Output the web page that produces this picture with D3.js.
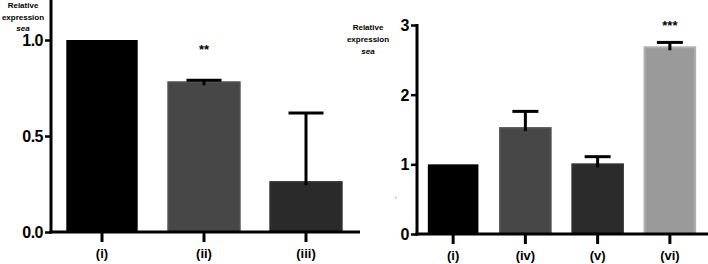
<!DOCTYPE html>
<html><head><meta charset="utf-8">
<script src="https://cdn.jsdelivr.net/npm/d3@7"></script>
<style>body{margin:0;background:#fff}svg{display:block}</style>
</head><body>
<script>
// Left panel data
const catsA = ["(i)", "(ii)", "(iii)"];
const valsA = [1.0, 0.78, 0.26];
const errA = [null, 0.79, 0.62];
const sigA = ["", "**", ""];
const colorsA = ["#000000", "#474747", "#2a2a2a"];
const ticksA = [0, 0.5, 1.0];
// Right panel data
const catsB = ["(i)", "(iv)", "(v)", "(vi)"];
const valsB = [1.0, 1.52, 1.0, 2.68];
const errB = [null, 1.76, 1.11, 2.75];
const sigB = ["", "", "", "***"];
const colorsB = ["#000000", "#474747", "#2b2b2b", "#9a9a9a"];
const ticksB = [0, 1, 2, 3];
const yLabel = ["Relative", "expression", "sea"];

const W = 708, H = 264;
const svg = d3.select("body").append("svg").attr("width", W).attr("height", H);
const font = "'Liberation Sans', Arial, sans-serif";

function panel(cfg) {
  const g = svg.append("g");
  const x = d3.scaleBand().domain(cfg.cats).range(cfg.xr).paddingInner(0.3).paddingOuter(0.15);
  const y = d3.scaleLinear().domain(cfg.yd).range(cfg.yr);
  // bars
  g.selectAll("rect.bar").data(cfg.vals).join("rect")
    .attr("x", (d, i) => x(cfg.cats[i]))
    .attr("width", x.bandwidth())
    .attr("y", d => y(d))
    .attr("height", d => y(0) - y(d))
    .attr("fill", (d, i) => cfg.colors[i])
    .attr("stroke", (d, i) => i === 0 ? "none" : d3.color(cfg.colors[i]).brighter(0.35))
    .attr("stroke-width", 2);
  // error bars
  cfg.errs.forEach((e, i) => {
    if (e == null) return;
    const cx = x(cfg.cats[i]) + x.bandwidth() / 2;
    g.append("line").attr("x1", cx).attr("x2", cx).attr("y1", y(e)).attr("y2", y(cfg.vals[i]) + 3)
      .attr("stroke", "#000").attr("stroke-width", 3);
    g.append("line").attr("x1", cx - cfg.cap / 2).attr("x2", cx + cfg.cap / 2).attr("y1", y(e)).attr("y2", y(e))
      .attr("stroke", "#000").attr("stroke-width", 3);
  });
  // significance
  cfg.sigs.forEach((s, i) => {
    if (!s) return;
    const cx = x(cfg.cats[i]) + x.bandwidth() / 2;
    g.append("text").attr("x", cx).attr("y", y(cfg.errs[i]) - cfg.sigOff).attr("text-anchor", "middle")
      .attr("font-family", font).attr("font-weight", "bold").attr("font-size", 13).text(s);
  });
  // y axis
  const ya = g.append("g").attr("transform", `translate(${cfg.xr[0]},0)`)
    .call(d3.axisLeft(y).tickValues(cfg.ticks).tickSize(6).tickPadding(2).tickFormat(cfg.fmt));
  ya.select(".domain").remove();
  ya.selectAll(".tick line").attr("stroke", "#000").attr("stroke-width", 2.5);
  ya.selectAll(".tick text").attr("font-family", font).attr("font-weight", "bold").attr("font-size", 16)
    .attr("fill", "#000").attr("dy", "0.35em").attr("letter-spacing", "-0.5");
  g.append("line").attr("x1", cfg.xr[0]).attr("x2", cfg.xr[0]).attr("y1", cfg.axisTop).attr("y2", y(0) + 1.5)
    .attr("stroke", "#000").attr("stroke-width", 3);
  // x axis
  const xa = g.append("g").attr("transform", `translate(0,${y(0)})`)
    .call(d3.axisBottom(x).tickSize(10).tickPadding(7));
  xa.select(".domain").remove();
  xa.selectAll(".tick line").attr("stroke", "#000").attr("stroke-width", 3);
  xa.selectAll(".tick text").attr("font-family", font).attr("font-weight", "bold").attr("font-size", 13)
    .attr("fill", "#000");
  g.append("line").attr("x1", cfg.xr[0] - 1.5).attr("x2", cfg.xEnd).attr("y1", y(0)).attr("y2", y(0))
    .attr("stroke", "#000").attr("stroke-width", 3);
  // y label
  yLabel.forEach((t, i) => {
    g.append("text").attr("x", cfg.lx).attr("y", cfg.ly + i * cfg.lh).attr("text-anchor", "middle")
      .attr("font-family", font).attr("font-weight", cfg.lw).attr("font-size", 8)
      .attr("font-style", i === 2 ? "italic" : "normal").text(t);
  });
  return {x, y, g};
}

panel({cats: catsA, vals: valsA, errs: errA, sigs: sigA, colors: colorsA, ticks: ticksA,
  xr: [51, 357], xEnd: 360, yd: [0, 1], yr: [232, 40], axisTop: 0, cap: 35, sigOff: 26,
  fmt: d3.format(".1f"), lx: 23, ly: 8, lh: 11.5, lw: "bold"});
const pB = panel({cats: catsB, vals: valsB, errs: errB, sigs: sigB, colors: colorsB, ticks: ticksB,
  xr: [417, 706], xEnd: 708, yd: [0, 3], yr: [234, 25], axisTop: 24, cap: 26, sigOff: 12,
  fmt: d3.format("d"), lx: 368, ly: 30, lh: 12, lw: "bold"});
pB.g.append("text").attr("x", 395).attr("y", 202).attr("font-family", font).attr("font-size", 8)
  .attr("fill", "#555").text("'");
</script>
</body></html>
